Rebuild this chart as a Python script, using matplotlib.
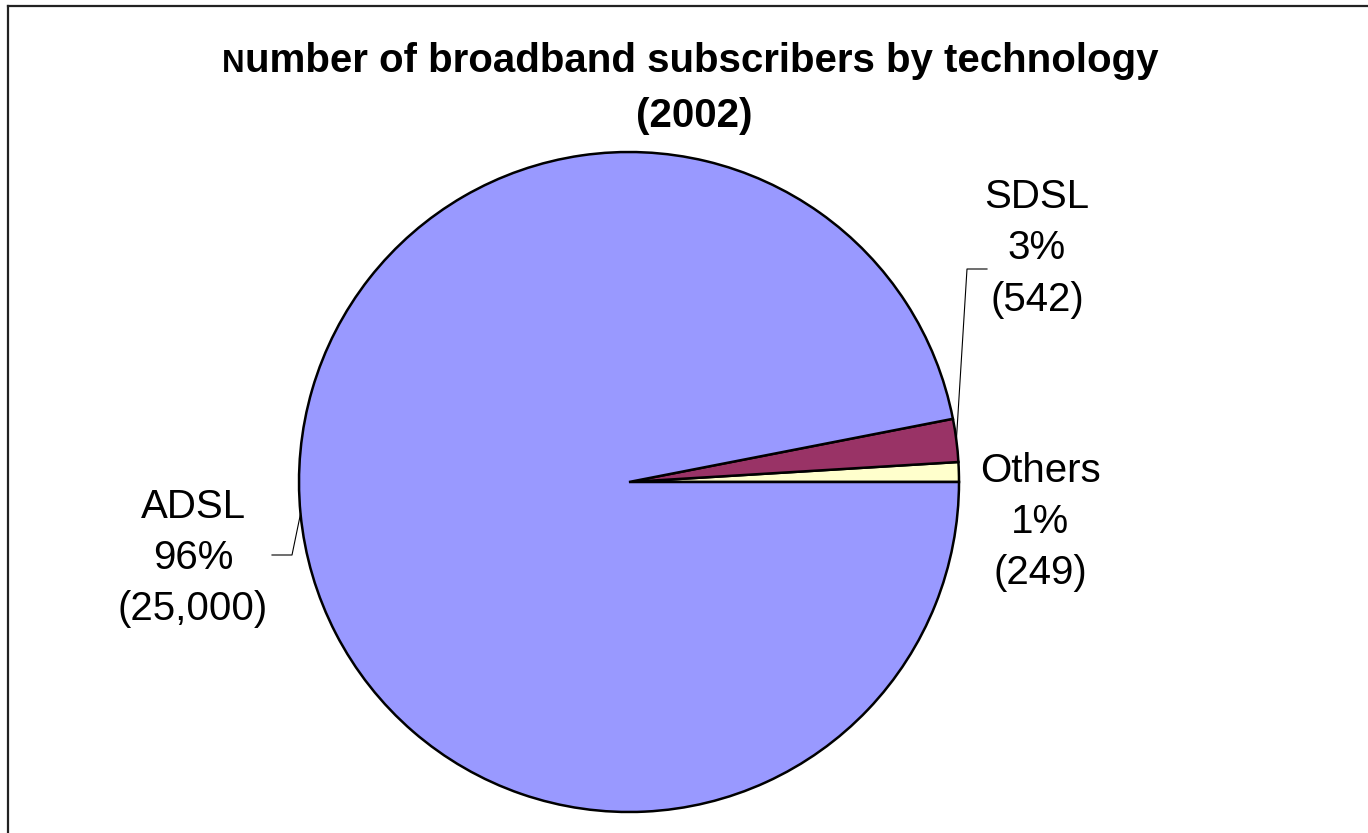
import numpy as np
import matplotlib
matplotlib.use("Agg")
import matplotlib.pyplot as plt
from matplotlib.lines import Line2D

plt.rcParams['font.family'] = ['Liberation Sans', 'DejaVu Sans']

# subscribers by technology (2002)
technologies = ["Others", "SDSL", "ADSL"]
subscribers = [249, 542, 25000]
pct_labels = ["1%", "3%", "96%"]
colors = ["#FFFFCC", "#993366", "#9999FF"]

W, H = 1368, 833
fig = plt.figure(figsize=(W / 100, H / 100), dpi=100)
ax = fig.add_axes([0, 0, 1, 1])
ax.set_aspect('equal')

def py(y):
    # pixel row (from top) to axes y
    return H - y

cx, cy, r = 629, py(482), 330
wedges, _ = ax.pie(subscribers, colors=colors, startangle=0, counterclock=True,
                   center=(cx, cy), radius=r, frame=True,
                   wedgeprops=dict(edgecolor='black', linewidth=1.8))
ax.set_xlim(0, W)
ax.set_ylim(0, H)
ax.axis('off')

# data labels
lbl_pos = {"Others": (1040, 522), "SDSL": (1037, 248), "ADSL": (193, 558)}
for name, n, pct in zip(technologies, subscribers, pct_labels):
    x, y = lbl_pos[name]
    ax.text(x, py(y), f"{name}\n{pct}\n({n:,})", ha='center', va='center',
            fontsize=29, linespacing=1.45, color='black')

# leader lines
def edge_point(w):
    a = np.deg2rad((w.theta1 + w.theta2) / 2)
    return cx + r * np.cos(a), cy + r * np.sin(a)

ex, ey = edge_point(wedges[1])
ax.plot([987, 967, ex], [py(269), py(269), ey], color='black', lw=0.8)
ex, ey = edge_point(wedges[2])
ax.plot([272, 292, ex], [py(555), py(555), ey], color='black', lw=0.8)

# title, with the smaller leading capital
rest = ax.text(0, py(72), "umber of broadband subscribers by technology",
               fontsize=29, fontweight='bold', ha='left', va='baseline')
cap = ax.text(0, py(72), "N", fontsize=22.5, fontweight='bold',
              ha='left', va='baseline')
fig.canvas.draw()
rend = fig.canvas.get_renderer()
w_cap = cap.get_window_extent(rend).width
w_rest = rest.get_window_extent(rend).width
x0 = 690 - (w_cap + w_rest) / 2
cap.set_x(x0)
rest.set_x(x0 + w_cap)
ax.text(694, py(127), "(2002)", fontsize=29, fontweight='bold',
        ha='center', va='baseline')

# chart area border
fig.add_artist(Line2D([8 / W, 8 / W], [0, 1 - 6 / H], transform=fig.transFigure,
                      color='#222222', lw=1.6))
fig.add_artist(Line2D([8 / W, 1], [1 - 6 / H, 1 - 6 / H], transform=fig.transFigure,
                      color='#222222', lw=1.6))

fig.savefig("out.png", dpi=100, facecolor='white')
